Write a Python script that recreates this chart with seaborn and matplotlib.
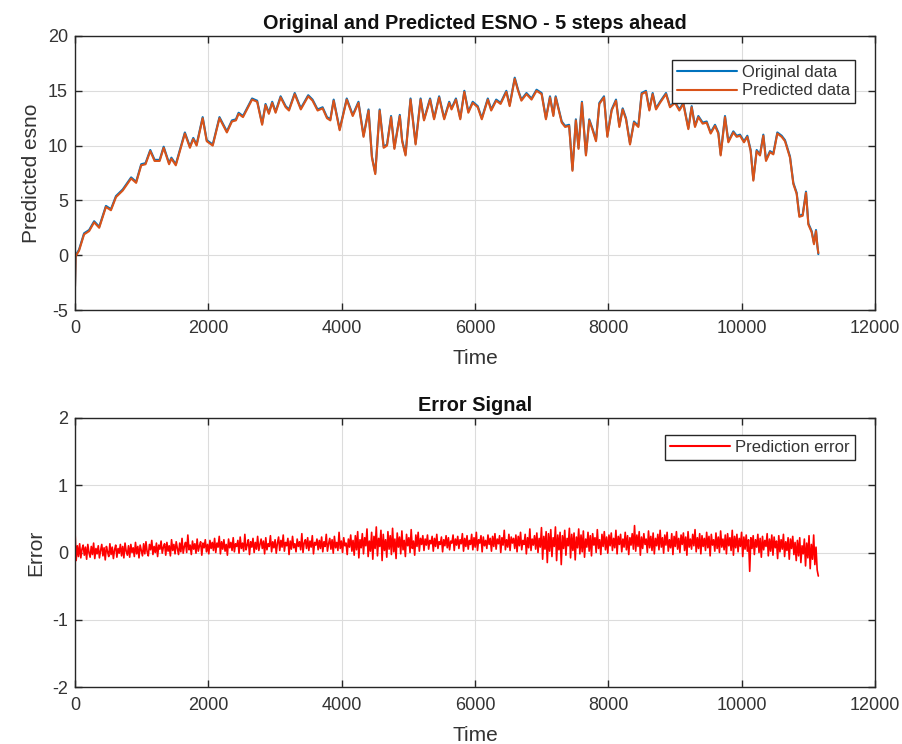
import numpy as np
import pandas as pd
import matplotlib
matplotlib.use("Agg")
import matplotlib.pyplot as plt
import seaborn as sns

# ---------------- data ----------------
esno_time = [0, 10, 60, 136, 212, 287, 363, 464, 539, 615, 716, 842, 917, 993, 1058,
             1129, 1194, 1270, 1330, 1411, 1446, 1512, 1648, 1724, 1774, 1824, 1915,
             1976, 2066, 2167, 2278, 2354, 2414, 2454, 2520, 2656, 2732, 2807, 2858,
             2908, 2958, 3009, 3084, 3160, 3210, 3296, 3387, 3498, 3563, 3639, 3714,
             3780, 3830, 3880, 3970, 4076, 4166, 4252, 4328, 4403, 4454, 4504, 4570,
             4630, 4680, 4741, 4791, 4872, 4907, 4958, 5033, 5109, 5184, 5235, 5326,
             5386, 5462, 5538, 5613, 5648, 5714, 5779, 5840, 5900, 5966, 6041, 6102,
             6192, 6243, 6318, 6384, 6470, 6520, 6596, 6646, 6696, 6772, 6848, 6923,
             6999, 7064, 7125, 7175, 7210, 7301, 7352, 7412, 7462, 7513, 7553, 7604,
             7664, 7714, 7765, 7815, 7865, 7935, 7985, 8050, 8115, 8165, 8215, 8265,
             8325, 8385, 8450, 8500, 8565, 8615, 8665, 8715, 8775, 8865, 8925, 9000,
             9065, 9125, 9200, 9250, 9300, 9350, 9415, 9475, 9535, 9600, 9650, 9685,
             9750, 9800, 9875, 9925, 9975, 10035, 10085, 10135, 10175, 10225, 10275,
             10325, 10365, 10425, 10475, 10535, 10600, 10650, 10725, 10775, 10825,
             10865, 10915, 10965, 11000, 11050, 11085, 11115, 11135, 11150]
esno_original = [-2.8, 0.0, 0.5, 2.0, 2.3, 3.1, 2.6, 4.5, 4.2, 5.4, 6.0, 7.1, 6.7, 8.3, 8.4,
                 9.6, 8.7, 8.7, 9.9, 8.4, 8.9, 8.3, 11.2, 9.9, 10.7, 10.1, 12.6,
                 10.5, 10.1, 12.6, 11.3, 12.3, 12.4, 13.0, 12.7, 14.3, 14.1, 12.0, 13.8,
                 13.0, 14.0, 13.1, 14.5, 13.6, 13.3, 14.8, 13.4, 14.6, 14.2, 13.3, 13.5,
                 12.6, 12.4, 14.2, 11.5, 14.3, 12.8, 14.0, 10.9, 13.3, 9.0, 7.5, 13.3,
                 9.9, 10.1, 12.7, 9.8, 12.8, 10.5, 9.2, 14.3, 10.2, 14.3, 12.4, 14.3,
                 12.5, 14.5, 12.5, 14.0, 13.4, 14.3, 12.5, 15.0, 13.1, 14.0, 13.6, 12.5,
                 14.3, 13.3, 14.2, 13.9, 15.0, 13.7, 16.2, 15.1, 14.2, 14.8, 14.3, 15.1,
                 14.8, 12.5, 14.5, 12.8, 14.5, 12.2, 11.8, 11.9, 7.8, 12.4, 9.8, 14.0,
                 9.2, 12.4, 11.5, 10.5, 13.9, 14.5, 10.9, 13.3, 14.2, 11.8, 13.4, 12.5,
                 10.2, 12.2, 11.8, 14.8, 15.0, 13.3, 14.8, 13.4, 14.0, 14.8, 13.6, 14.0,
                 13.3, 13.9, 11.6, 13.6, 11.8, 12.7, 12.1, 12.2, 11.2, 11.9, 11.2, 9.2,
                 12.7, 10.4, 11.3, 10.9, 11.0, 10.4, 10.9, 9.6, 6.9, 9.6, 9.2,
                 11.0, 8.7, 9.5, 9.3, 11.2, 10.9, 10.5, 9.0, 6.6, 5.7,
                 3.6, 3.7, 5.8, 2.9, 2.2, 1.1, 2.3, 0.9, 0.1]
esno_predicted = [-2.9, -0.1, 0.4, 1.9, 2.2, 3.0, 2.5, 4.4, 4.1, 5.3, 5.9, 7.0, 6.6, 8.2, 8.3,
                  9.5, 8.6, 8.6, 9.8, 8.3, 8.8, 8.2, 11.1, 9.8, 10.6, 10.0, 12.5,
                  10.4, 10.0, 12.5, 11.2, 12.2, 12.3, 12.9, 12.6, 14.2, 14.0, 11.9, 13.7,
                  12.9, 13.9, 13.0, 14.4, 13.5, 13.2, 14.7, 13.3, 14.5, 14.1, 13.2, 13.4,
                  12.5, 12.3, 14.1, 11.4, 14.2, 12.7, 13.9, 10.8, 13.2, 8.9, 7.4, 13.2,
                  9.8, 10.0, 12.6, 9.7, 12.7, 10.4, 9.1, 14.2, 10.1, 14.2, 12.3, 14.2,
                  12.4, 14.4, 12.4, 13.9, 13.3, 14.2, 12.4, 14.9, 13.0, 13.9, 13.5, 12.4,
                  14.2, 13.2, 14.1, 13.8, 14.9, 13.6, 16.1, 15.0, 14.1, 14.7, 14.2, 15.0,
                  14.7, 12.4, 14.4, 12.7, 14.4, 12.1, 11.7, 11.8, 7.7, 12.3, 9.7, 13.9,
                  9.1, 12.3, 11.4, 10.4, 13.8, 14.4, 10.8, 13.2, 14.1, 11.7, 13.3, 12.4,
                  10.1, 12.1, 11.7, 14.7, 14.9, 13.2, 14.7, 13.3, 13.9, 14.7, 13.5, 13.9,
                  13.2, 13.8, 11.5, 13.5, 11.7, 12.6, 12.0, 12.1, 11.1, 11.8, 11.1, 9.1,
                  12.6, 10.3, 11.2, 10.8, 10.9, 10.3, 10.8, 9.5, 6.8, 9.5, 9.1,
                  10.9, 8.6, 9.4, 9.2, 11.1, 10.8, 10.4, 8.9, 6.5, 5.6,
                  3.5, 3.6, 5.7, 2.8, 2.1, 1.0, 2.2, 0.9, 0.2]

prediction_error = [
    0.32, -0.12, 0.10, -0.06, 0.13, -0.08, 0.05, 0.11, -0.04, 0.08, -0.10, 0.12, 0.00, -0.07, 0.09, -0.03, 0.14, -0.09, 0.06, -0.02,
    0.10, -0.08, 0.03, 0.12, -0.05, 0.07, -0.11, 0.09, 0.01, -0.06, 0.13, -0.03, 0.08, -0.09, 0.04, 0.11, -0.07, 0.06, -0.01, 0.12,
    -0.05, 0.09, -0.08, 0.14, 0.02, -0.04, 0.10, -0.07, 0.12, 0.00, 0.07, -0.06, 0.15, -0.02, 0.09, -0.08, 0.11, 0.03, -0.05, 0.13,
    -0.02, 0.16, 0.01, -0.05, 0.12, 0.04, 0.18, -0.03, 0.09, 0.00, 0.14, -0.06, 0.11, 0.05, 0.17, -0.01, 0.08, 0.13, -0.04, 0.15,
    0.02, 0.10, -0.05, 0.19, 0.03, 0.12, -0.02, 0.16, 0.06, -0.03, 0.14, 0.01, 0.21, -0.01, 0.09, 0.15, 0.00, 0.26, 0.04, 0.11,
    -0.03, 0.17, 0.05, 0.13, -0.01, 0.20, 0.02, 0.10, 0.16, -0.04, 0.14, 0.07, 0.19, 0.01, 0.12, -0.02, 0.18, 0.06, 0.15, 0.03,
    0.21, 0.00, 0.14, 0.08, 0.24, -0.02, 0.16, 0.05, 0.19, 0.02, 0.12, -0.04, 0.20, 0.07, 0.15, 0.03, 0.22, 0.01, 0.13, 0.09,
    0.18, -0.01, 0.23, 0.06, 0.14, 0.02, 0.27, 0.04, 0.11, 0.19, -0.03, 0.16, 0.08, 0.21, 0.00, 0.15, 0.05, 0.24, 0.03, 0.12,
    0.20, 0.06, 0.17, -0.02, 0.22, 0.04, 0.13, 0.09, 0.25, 0.01, 0.16, 0.07, 0.19, -0.01, 0.14, 0.23, 0.03, 0.18, 0.08, 0.26,
    0.02, 0.15, 0.10, 0.21, -0.03, 0.17, 0.05, 0.24, 0.07, 0.13, 0.01, 0.20, 0.09, 0.16, 0.04, 0.28, 0.00, 0.14, 0.19, 0.06,
    0.22, 0.03, 0.17, 0.08, 0.25, -0.02, 0.15, 0.11, 0.20, 0.04, 0.18, 0.06, 0.23, 0.01, 0.16, 0.09, 0.27, 0.02, 0.13, 0.21,
    0.05, 0.19, -0.01, 0.24, 0.07, 0.15, 0.03, 0.30, 0.06, 0.17, 0.00, 0.22, 0.10, 0.14, -0.03, 0.20, 0.08, 0.26, 0.02, 0.18,
    -0.04, 0.25, 0.04, 0.31, -0.08, 0.19, 0.07, 0.28, -0.02, 0.22, 0.10, 0.35, -0.06, 0.17, 0.02, 0.30, -0.10, 0.24, 0.06, 0.38,
    -0.05, 0.21, 0.09, 0.33, -0.12, 0.27, 0.03, 0.19, -0.07, 0.31, 0.05, 0.25, -0.03, 0.36, 0.01, 0.20, -0.09, 0.29, 0.08, 0.23,
    -0.02, 0.32, 0.04, 0.18, -0.06, 0.27, 0.10, 0.22, 0.00, 0.34, 0.06, 0.17, -0.04, 0.26, 0.09, 0.30, 0.02, 0.21, 0.12, 0.25,
    0.03, 0.20, 0.11, 0.26, 0.05, 0.18, 0.13, 0.24, 0.02, 0.21, 0.09, 0.27, 0.06, 0.16, 0.12, 0.23, 0.01, 0.19, 0.10, 0.25,
    0.07, 0.22, 0.04, 0.17, 0.14, 0.26, 0.03, 0.20, 0.11, 0.24, 0.06, 0.19, 0.13, 0.28, 0.02, 0.21, 0.09, 0.25, 0.05, 0.18,
    0.12, 0.27, 0.04, 0.22, 0.08, 0.30, 0.03, 0.19, 0.14, 0.25, 0.01, 0.23, 0.10, 0.18, 0.06, 0.26, 0.12, 0.21, 0.02, 0.24,
    0.09, 0.28, 0.05, 0.20, 0.13, 0.25, 0.00, 0.22, 0.11, 0.33, 0.04, 0.19, 0.08, 0.27, 0.03, 0.23, 0.14, 0.21, 0.06, 0.26,
    0.01, 0.24, 0.10, 0.30, 0.04, 0.18, 0.12, 0.27, -0.02, 0.22, 0.07, 0.35, 0.03, 0.20, 0.11, 0.25, 0.05, 0.29, 0.00, 0.21,
    0.08, 0.37, -0.10, 0.24, 0.05, 0.31, -0.15, 0.28, 0.02, 0.34, -0.06, 0.22, 0.09, 0.38, -0.12, 0.26, 0.04, 0.30, -0.18, 0.25,
    0.06, 0.33, -0.04, 0.21, 0.10, 0.36, -0.08, 0.27, 0.03, 0.29, -0.11, 0.23, 0.07, 0.35, -0.02, 0.26, 0.01, 0.32, -0.07, 0.20,
    0.08, 0.30, 0.02, 0.25, -0.05, 0.28, 0.11, 0.22, 0.00, 0.34, 0.06, 0.19, -0.03, 0.27, 0.09, 0.31, 0.04, 0.23, -0.01, 0.26,
    0.10, 0.29, 0.03, 0.21, 0.07, 0.33, -0.02, 0.24, 0.12, 0.27, 0.01, 0.20, 0.08, 0.30, 0.04, 0.25, -0.03, 0.22, 0.11, 0.28,
    0.05, 0.40, 0.02, 0.26, 0.09, 0.31, -0.04, 0.23, 0.06, 0.28, 0.12, 0.20, 0.00, 0.32, 0.07, 0.24, 0.03, 0.29, -0.02, 0.21,
    0.10, 0.27, 0.04, 0.33, 0.08, 0.22, -0.01, 0.26, 0.11, 0.30, 0.02, 0.19, 0.07, 0.28, -0.03, 0.24, 0.09, 0.31, 0.05, 0.21,
    0.00, 0.26, 0.12, 0.29, 0.03, 0.23, -0.04, 0.31, 0.08, 0.20, 0.05, 0.27, 0.10, 0.34, 0.01, 0.22, 0.06, 0.28, -0.02, 0.25,
    0.09, 0.21, 0.03, 0.30, 0.07, 0.24, -0.05, 0.27, 0.11, 0.19, 0.02, 0.29, 0.06, 0.23, 0.00, 0.32, 0.08, 0.20, 0.04, 0.26,
    -0.02, 0.28, 0.10, 0.22, 0.03, 0.33, -0.04, 0.24, 0.07, 0.27, 0.01, 0.21, 0.09, 0.30, -0.06, 0.23, 0.05, 0.26, 0.02, 0.19,
    -0.28, 0.22, 0.06, 0.25, -0.03, 0.19, 0.08, 0.27, 0.00, 0.21, -0.07, 0.24, 0.04, 0.18, 0.09, 0.28, -0.05, 0.20, 0.02, 0.26,
    -0.04, 0.23, 0.07, 0.17, -0.09, 0.25, 0.01, 0.19, 0.05, 0.27, -0.06, 0.16, 0.03, 0.22, -0.10, 0.20, 0.06, 0.24, -0.03, 0.15,
    -0.12, 0.18, -0.05, 0.22, -0.15, 0.10, -0.02, 0.20, -0.20, 0.14, -0.08, 0.25, -0.24, 0.12, -0.10, 0.26, -0.18, 0.08, -0.26, -0.35,
]
error_end_time = 11150

top_title = "Original and Predicted ESNO - 5 steps ahead"
bottom_title = "Error Signal"
x_label = "Time"
top_ylabel = "Predicted esno"
bottom_ylabel = "Error"
x_ticks = [0, 2000, 4000, 6000, 8000, 10000, 12000]
top_yticks = [-5, 0, 5, 10, 15, 20]
bottom_yticks = [-2, -1, 0, 1, 2]

# ---------------- style ----------------
sns.set_theme(style="whitegrid")
plt.rcParams['font.family'] = ['Liberation Sans', 'DejaVu Sans']
plt.rcParams['axes.unicode_minus'] = False

BLUE = "#0072BD"
ORANGE = "#D95319"
RED = "#FF0000"
AX_COLOR = "#262626"
TEXT_COLOR = "#333333"

df_top = pd.DataFrame({
    "Time": esno_time * 2,
    "value": esno_original + esno_predicted,
    "series": ["Original data"] * len(esno_time) + ["Predicted data"] * len(esno_time),
})
err_time = np.linspace(0, error_end_time, len(prediction_error))
df_err = pd.DataFrame({"Time": err_time, "value": prediction_error,
                       "series": ["Prediction error"] * len(prediction_error)})

fig = plt.figure(figsize=(9.02, 7.44), dpi=100)
ax1 = fig.add_axes([75 / 902, 1 - 310 / 744, 800 / 902, 274 / 744])
ax2 = fig.add_axes([75 / 902, 1 - 687 / 744, 800 / 902, 269 / 744])

sns.lineplot(data=df_top, x="Time", y="value", hue="series",
             palette=[BLUE, ORANGE], linewidth=1.5, sort=False,
             estimator=None, ax=ax1)
sns.lineplot(data=df_err, x="Time", y="value", hue="series",
             palette=[RED], linewidth=1.2, sort=False, estimator=None, ax=ax2)


def style_axes(ax, yticks, title, ylabel):
    ax.set_facecolor("white")
    ax.set_xlim(0, 12000)
    ax.set_ylim(yticks[0], yticks[-1])
    ax.set_xticks(x_ticks)
    ax.set_yticks(yticks)
    ax.grid(True, color="#dcdcdc", linewidth=0.8)
    for s in ax.spines.values():
        s.set_color(AX_COLOR)
        s.set_linewidth(1.0)
        s.set_visible(True)
    ax.tick_params(axis="both", which="both", direction="in", length=5,
                   width=1.0, color=AX_COLOR, labelsize=13,
                   labelcolor=TEXT_COLOR, top=True, right=True,
                   bottom=True, left=True, pad=5)
    ax.tick_params(axis="x", pad=7)
    ax.set_title(title, fontsize=14.3, fontweight="bold", color="#111111", pad=5)
    ax.set_xlabel(x_label, fontsize=15, color=TEXT_COLOR, labelpad=9)
    ax.set_ylabel(ylabel, fontsize=15, color=TEXT_COLOR, labelpad=5)


style_axes(ax1, top_yticks, top_title, top_ylabel)
style_axes(ax2, bottom_yticks, bottom_title, bottom_ylabel)

for ax, anchor in ((ax1, (0.975, 0.912)), (ax2, (0.975, 0.937))):
    leg = ax.legend(loc="upper right", bbox_to_anchor=anchor, fontsize=12,
                    frameon=True, fancybox=False, edgecolor=AX_COLOR,
                    framealpha=1, handlelength=3.6, handletextpad=0.3,
                    borderpad=0.3, labelspacing=0.2, borderaxespad=0.0)
    leg.get_frame().set_linewidth(1.0)
    for line in leg.get_lines():
        line.set_linewidth(1.5)
    for t in leg.get_texts():
        t.set_color(TEXT_COLOR)

fig.savefig("out.png", dpi=100)
